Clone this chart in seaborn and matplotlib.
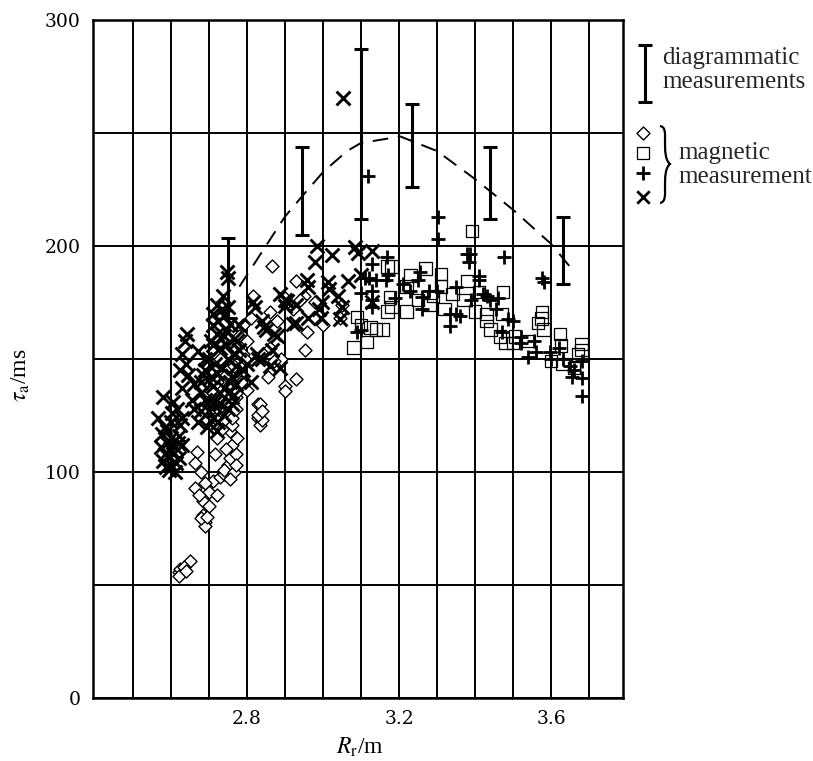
import matplotlib
matplotlib.use("Agg")
import matplotlib.pyplot as plt
import seaborn as sns
import numpy as np
import pandas as pd
from matplotlib.ticker import FixedLocator
from matplotlib.path import Path
from matplotlib.patches import PathPatch

# ---------------- data ----------------
cross_x = [2.579, 2.566, 2.576, 2.59, 2.585, 2.605, 2.60, 2.61, 2.624, 2.63, 2.605, 2.615, 2.59, 2.60, 2.62,
           2.58, 2.595, 2.61, 2.63, 2.575, 2.62, 2.60, 2.585, 2.597, 2.612, 2.602, 2.588, 2.618,
           2.642, 2.637, 2.63, 2.67, 2.64, 2.645, 2.625, 2.66, 2.63, 2.655,
           2.747, 2.75, 2.737, 2.72, 2.75, 2.71, 2.74, 2.755, 2.71, 2.78, 2.72, 2.74, 2.765, 2.71, 2.73, 2.78,
           2.826, 2.70, 2.75, 2.77, 2.69, 2.72, 2.76, 2.79, 2.68, 2.71, 2.74, 2.70, 2.73, 2.76, 2.68, 2.71,
           2.74, 2.695, 2.72, 2.67, 2.66, 2.68, 2.75, 2.77, 2.80, 2.81,
           2.705, 2.725, 2.745, 2.765, 2.735, 2.715, 2.755, 2.69, 2.70, 2.73, 2.76, 2.745, 2.725, 2.69,
           2.705, 2.735, 2.775, 2.755, 2.715, 2.685,
           2.984, 3.023, 2.98, 3.084, 3.092, 3.13, 2.957, 2.96, 3.013, 3.015, 3.066, 3.10, 2.887, 2.90, 2.90,
           2.93, 2.997, 3.04, 3.05, 2.99, 2.995, 3.045, 2.84, 2.845, 2.92, 2.93, 2.87, 2.866, 2.887, 2.84,
           2.816, 2.82, 2.905, 3.13, 2.85, 2.88, 2.96, 2.83, 2.86, 3.053]
cross_y = [133, 124, 117, 113, 108, 108, 103, 111, 121, 124, 131, 128, 118, 115, 106,
           105, 101, 100, 112, 111, 116, 122, 120, 110, 104, 126, 102, 113,
           161, 158, 152, 153.5, 148, 143, 145, 139, 137, 132,
           188.5, 186, 178, 174, 173, 170, 169, 165.5, 165, 165, 161, 160, 159, 156, 155, 154,
           152, 150, 150, 147, 145, 144, 142, 145, 140, 138, 137, 132, 130, 133, 127, 124,
           125, 120, 118, 122, 128, 135, 128, 139, 148, 140,
           158, 167, 163, 152, 146, 148, 140, 132, 127, 135, 130, 156, 122, 150,
           142, 172, 158, 136, 131, 143,
           200, 196, 193, 199.5, 197, 198, 185, 182, 184, 181, 184.5, 187, 178.8, 176, 173.5,
           174, 175, 178, 173, 172, 168, 167.7, 166.8, 164, 165.5, 166, 161, 154, 146, 150,
           175, 173, 175.6, 175, 163, 160, 168, 150, 147, 265.5]

diamond_x = [2.62, 2.625, 2.65, 2.635, 2.62, 2.64,
             2.684, 2.69, 2.69, 2.68, 2.695,
             2.663, 2.684, 2.70, 2.72, 2.71, 2.73, 2.74, 2.675, 2.70, 2.69,
             2.668, 2.664, 2.68, 2.716, 2.72, 2.716, 2.75, 2.755, 2.77, 2.76, 2.755, 2.76, 2.76, 2.77,
             2.77, 2.80, 2.78, 2.83, 2.83, 2.835, 2.84, 2.855, 2.74, 2.765, 2.745, 2.77,
             2.73, 2.76, 2.79, 2.78, 2.75, 2.72, 2.77, 2.80, 2.79, 2.74,
             2.705, 2.725, 2.745, 2.765, 2.785, 2.735, 2.71, 2.775, 2.755, 2.795,
             2.865, 2.93, 2.95, 2.816, 2.86, 2.94, 2.90, 3.05, 3.045, 2.957, 2.953, 2.86, 2.89, 2.87,
             2.834, 2.83, 2.84, 2.90, 2.90, 2.93, 2.81, 2.88, 2.92, 2.98, 3.00]
diamond_y = [55.7, 57, 60.6, 58, 54, 56,
             81, 78, 76, 79.5, 80,
             93, 87, 91, 90, 96, 98, 99, 90, 85, 95,
             109, 104, 100, 108, 115, 124, 103, 106, 108, 112, 118, 121, 124, 128,
             133, 136.5, 141, 130, 124, 121, 123, 142, 101, 100, 110, 103,
             150, 155, 152, 160, 145, 140, 135, 158, 165, 130,
             136, 128, 143, 147, 140, 119, 131, 115, 97, 150,
             191, 184.5, 178, 178, 171, 176, 177, 174, 168, 162, 154, 155, 150, 149,
             130, 125, 127, 138, 136, 141, 168, 167, 172, 175, 165]

square_x = [3.17, 3.09, 3.08, 3.116, 3.10, 3.125, 3.158, 3.14, 3.176, 3.17, 3.392, 3.38, 3.27, 3.23,
            3.31, 3.31, 3.22, 3.18, 3.18, 3.22, 3.34, 3.37, 3.41, 3.40, 3.43, 3.43, 3.465, 3.47, 3.48,
            3.29, 3.474, 3.576, 3.575, 3.565, 3.624, 3.626, 3.68, 3.68, 3.505, 3.58, 3.50, 3.63, 3.67,
            3.25, 3.28, 3.32, 3.54, 3.60, 3.66, 3.44]
square_y = [191, 168.6, 155, 157.5, 165, 164, 163, 163, 177.5, 171, 206.6, 184.5, 190, 187,
            187.5, 182, 182, 191, 173, 171, 178.8, 176, 179.6, 171, 170, 166.8, 160, 170, 157,
            178, 179.6, 170.8, 168, 166, 161, 156, 156.6, 154, 160, 163, 157, 147.8, 152,
            176, 174, 172, 158, 149, 146, 163]

plus_x = [3.118, 3.168, 3.13, 3.11, 3.12, 3.14, 3.165, 3.13, 3.10, 3.13, 3.10, 3.17, 3.13, 3.09,
          3.303, 3.303, 3.387, 3.385, 3.476, 3.41, 3.576, 3.58, 3.255, 3.25, 3.23, 3.26, 3.26, 3.30,
          3.35, 3.334, 3.35, 3.334, 3.36, 3.38, 3.41, 3.42, 3.43, 3.44, 3.46, 3.455, 3.47, 3.19,
          3.487, 3.50, 3.52, 3.52, 3.555, 3.56, 3.597, 3.60, 3.62, 3.63, 3.65, 3.655, 3.68, 3.54,
          3.68, 3.68, 3.21, 3.28, 3.39, 3.66]
plus_y = [231, 195, 192, 186, 186, 185, 185, 180, 179, 176, 163, 187, 173, 162,
          212.8, 203, 196.5, 193, 195, 186.7, 186, 184, 188.5, 185, 180, 177.5, 172, 180,
          182, 170, 170, 164.6, 169, 196.5, 185, 178.8, 178, 176, 177, 172, 162, 177,
          167.7, 167, 159.7, 157, 158, 153, 153, 150, 155, 150, 147, 142, 141.8, 150.7,
          149, 133.6, 183, 180, 176, 145]

diag_x = [2.75, 2.945, 3.10, 3.235, 3.44, 3.63]
diag_lo = [168, 205, 212, 226, 212, 183]
diag_hi = [203.5, 244, 287, 263, 244, 213]

curve_x = [2.78, 2.853, 2.90, 2.945, 3.00, 3.063, 3.10, 3.195, 3.203, 3.30, 3.40, 3.50, 3.60, 3.65]
curve_y = [182, 200.9, 213, 222, 232.7, 242, 245.6, 248.2, 248.5, 242, 229.6, 216, 200.9, 190.7]

# ---------------- plot ----------------
sns.set_theme(style="white")
plt.rcParams['font.family'] = ['Liberation Serif', 'DejaVu Serif']
plt.rcParams['mathtext.fontset'] = 'stix'

W, H = 813, 761
fig = plt.figure(figsize=(W / 100, H / 100), dpi=100)
ax = fig.add_axes([93 / W, 1 - 698 / H, (623 - 93) / W, (698 - 20) / H])

ax.set_xlim(2.395, 3.789)
ax.set_ylim(0, 300)
ax.xaxis.set_major_locator(FixedLocator([2.8, 3.2, 3.6]))
ax.xaxis.set_minor_locator(FixedLocator([2.5, 2.6, 2.7, 2.9, 3.0, 3.1, 3.3, 3.4, 3.5, 3.7]))
ax.yaxis.set_major_locator(FixedLocator([0, 100, 200, 300]))
ax.yaxis.set_minor_locator(FixedLocator([50, 150, 250]))
ax.grid(True, which='both', color='black', linewidth=1.4)
ax.set_axisbelow(True)
for s in ax.spines.values():
    s.set_color('black')
    s.set_linewidth(1.8)
ax.tick_params(which='both', length=0, pad=9, colors='black')
ax.set_xticklabels(['2.8', '3.2', '3.6'], family='DejaVu Serif', fontsize=13.5)
ax.set_yticklabels(['0', '100', '200', '300'], family='DejaVu Serif', fontsize=13.5)

df_d = pd.DataFrame({'x': diamond_x, 'y': diamond_y})
df_s = pd.DataFrame({'x': square_x, 'y': square_y})
df_p = pd.DataFrame({'x': plus_x, 'y': plus_y})
df_c = pd.DataFrame({'x': cross_x, 'y': cross_y})

sns.scatterplot(data=df_d, x='x', y='y', marker='D', s=44, facecolors='white',
                edgecolor='black', linewidth=1.0, ax=ax, zorder=3)
sns.scatterplot(data=df_s, x='x', y='y', marker='s', s=80, facecolors='none',
                edgecolor='black', linewidth=0.9, ax=ax, zorder=3)
sns.scatterplot(data=df_c, x='x', y='y', marker='x', s=100, color='black',
                linewidth=2.1, ax=ax, zorder=4)
sns.scatterplot(data=df_p, x='x', y='y', marker='+', s=90, color='black',
                linewidth=2.0, ax=ax, zorder=4)

sns.lineplot(x=curve_x, y=curve_y, color='black', linewidth=1.4, ax=ax,
             linestyle=(0, (8, 5)), zorder=5, sort=False)

mid = [(a + b) / 2 for a, b in zip(diag_lo, diag_hi)]
err = [[m - a for m, a in zip(mid, diag_lo)], [b - m for m, b in zip(mid, diag_hi)]]
ax.errorbar(diag_x, mid, yerr=err, fmt='none', ecolor='black', elinewidth=2.2,
            capsize=5, capthick=2.2, zorder=6)

ax.set_xlabel(r'$R_\mathrm{r}$/m', fontsize=17, color='black')
ax.set_ylabel(r'$\tau_\mathrm{a}$/ms', fontsize=17, color='black')
ax.xaxis.set_label_coords((360 - 93) / (623 - 93), -(736 - 698) / (698 - 20))
ax.yaxis.set_label_coords(-(93 - 32) / (623 - 93), (698 - 375) / (698 - 20))

# ---------------- legend (pixel coords) ----------------
leg = fig.add_axes([0, 0, 1, 1], facecolor='none')
leg.set_xlim(0, W)
leg.set_ylim(H, 0)
leg.axis('off')
leg.errorbar([645], [73.5], yerr=[[28.5], [28.5]], fmt='none', ecolor='black',
             elinewidth=2.2, capsize=5, capthick=2.2)
leg.text(662, 58, 'diagrammatic', fontsize=18, va='center', ha='left')
leg.text(662, 82, 'measurements', fontsize=18, va='center', ha='left')
leg.scatter([643], [133], marker='D', s=44, facecolors='white', edgecolors='black', linewidths=1.0)
leg.scatter([643], [153], marker='s', s=80, facecolors='none', edgecolors='black', linewidths=0.9)
leg.scatter([643], [173], marker='+', s=90, color='black', linewidths=2.0)
leg.scatter([643], [197], marker='x', s=80, color='black', linewidths=2.0)

# thin curly brace
verts = [(660, 126), (666, 127), (665, 134), (665, 142),
         (665, 150), (665, 160), (670, 164),
         (665, 168), (665, 178), (665, 186),
         (665, 194), (666, 202), (660, 203)]
codes = [Path.MOVETO, Path.CURVE4, Path.CURVE4, Path.CURVE4,
         Path.CURVE4, Path.CURVE4, Path.CURVE4,
         Path.CURVE4, Path.CURVE4, Path.CURVE4,
         Path.CURVE4, Path.CURVE4, Path.CURVE4]
leg.add_patch(PathPatch(Path(verts, codes), facecolor='none', edgecolor='black', linewidth=1.6))
leg.text(678, 153, 'magnetic', fontsize=18, va='center', ha='left')
leg.text(678, 177, 'measurement', fontsize=18, va='center', ha='left')

fig.savefig('out.png', dpi=100)
